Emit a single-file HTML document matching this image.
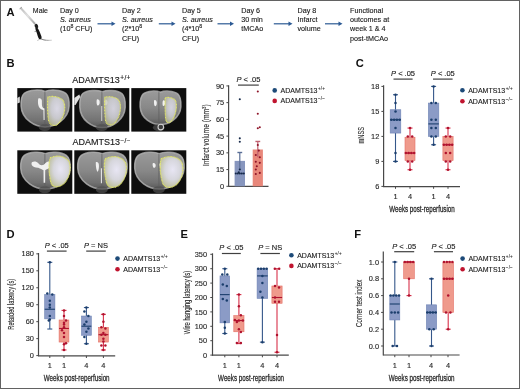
<!DOCTYPE html>
<html><head><meta charset="utf-8"><style>
html,body{margin:0;padding:0;background:#fff;width:520px;height:389px;overflow:hidden;position:relative;}
svg{display:block;font-family:"Liberation Sans", sans-serif;filter:blur(0.3px);}
</style></head><body>
<svg width="520" height="389" viewBox="0 0 520 389" font-family='"Liberation Sans", sans-serif'>
<rect x="0" y="0" width="520" height="389" fill="#fff"/>
<text x="6.40" y="15.90" font-size="11.2" text-anchor="start" font-weight="bold" font-style="normal" fill="#111" >A</text>
<defs><linearGradient id="syr" x1="0" y1="0" x2="1" y2="1"><stop offset="0" stop-color="#bbb"/><stop offset="0.5" stop-color="#e4e4e4"/><stop offset="1" stop-color="#999"/></linearGradient></defs>
<path d="M20.0,8.6 L21.4,7.6 L35.6,23.2 L34.4,24.4 Z" fill="url(#syr)" stroke="#b0b0b0" stroke-width="0.3"/>
<path d="M19.6,8.8 L21.8,7.2" stroke="#999" stroke-width="1.0"/>
<ellipse cx="36.4" cy="26.2" rx="1.7" ry="2.4" transform="rotate(-22 36.4 26.2)" fill="#1e1e1e"/>
<path d="M35.6,27.8 C36.6,27.6 37.8,28 38.4,29.2 C39.4,31 40.6,33.8 41.4,36.2 C41.9,37.8 41.4,39.2 40.2,39.4 C39,39.4 38.4,38 37.8,36.2 C37.2,34 36.6,32 35.9,30.4 C35.5,29.4 35.2,28.4 35.6,27.8 Z" fill="#161616"/>
<defs><linearGradient id="tail" x1="0" y1="0" x2="1" y2="0"><stop offset="0" stop-color="#444"/><stop offset="1" stop-color="#ddd"/></linearGradient></defs>
<path d="M40.8,38.6 C43,40 46,40.6 52,40.2" fill="none" stroke="url(#tail)" stroke-width="1.0"/>
<path d="M36,31.2 l-1.4,0.4 M38.6,39.6 l-0.8,1.0" stroke="#444" stroke-width="0.6"/>
<text x="32.80" y="13.00" font-size="7.0" text-anchor="start" font-weight="normal" font-style="normal" fill="#1a1a1a" stroke="#1a1a1a" stroke-width="0.12" >Male</text>
<text x="60.00" y="13.00" font-size="7.2" text-anchor="start" font-weight="normal" font-style="normal" fill="#1a1a1a" stroke="#1a1a1a" stroke-width="0.12" >Day 0</text>
<text x="60.00" y="22.00" font-size="7.2" text-anchor="start" font-weight="normal" font-style="normal" fill="#1a1a1a" stroke="#1a1a1a" stroke-width="0.12" ><tspan font-style="italic">S. aureus</tspan></text>
<text x="60.00" y="31.20" font-size="7.2" text-anchor="start" font-weight="normal" font-style="normal" fill="#1a1a1a" stroke="#1a1a1a" stroke-width="0.12" >(10<tspan font-size="5.2" dy="-3">8</tspan><tspan dy="3"> CFU)</tspan></text>
<text x="122.00" y="13.00" font-size="7.2" text-anchor="start" font-weight="normal" font-style="normal" fill="#1a1a1a" stroke="#1a1a1a" stroke-width="0.12" >Day 2</text>
<text x="122.00" y="22.00" font-size="7.2" text-anchor="start" font-weight="normal" font-style="normal" fill="#1a1a1a" stroke="#1a1a1a" stroke-width="0.12" ><tspan font-style="italic">S. aureus</tspan></text>
<text x="122.00" y="31.20" font-size="7.2" text-anchor="start" font-weight="normal" font-style="normal" fill="#1a1a1a" stroke="#1a1a1a" stroke-width="0.12" >(2*10<tspan font-size="5.2" dy="-3">8</tspan></text>
<text x="122.00" y="40.60" font-size="7.2" text-anchor="start" font-weight="normal" font-style="normal" fill="#1a1a1a" stroke="#1a1a1a" stroke-width="0.12" >CFU)</text>
<text x="182.00" y="13.00" font-size="7.2" text-anchor="start" font-weight="normal" font-style="normal" fill="#1a1a1a" stroke="#1a1a1a" stroke-width="0.12" >Day 5</text>
<text x="182.00" y="22.00" font-size="7.2" text-anchor="start" font-weight="normal" font-style="normal" fill="#1a1a1a" stroke="#1a1a1a" stroke-width="0.12" ><tspan font-style="italic">S. aureus</tspan></text>
<text x="182.00" y="31.20" font-size="7.2" text-anchor="start" font-weight="normal" font-style="normal" fill="#1a1a1a" stroke="#1a1a1a" stroke-width="0.12" >(4*10<tspan font-size="5.2" dy="-3">8</tspan></text>
<text x="182.00" y="40.60" font-size="7.2" text-anchor="start" font-weight="normal" font-style="normal" fill="#1a1a1a" stroke="#1a1a1a" stroke-width="0.12" >CFU)</text>
<text x="241.30" y="13.00" font-size="7.2" text-anchor="start" font-weight="normal" font-style="normal" fill="#1a1a1a" stroke="#1a1a1a" stroke-width="0.12" >Day 6</text>
<text x="241.30" y="22.00" font-size="7.2" text-anchor="start" font-weight="normal" font-style="normal" fill="#1a1a1a" stroke="#1a1a1a" stroke-width="0.12" >30 min</text>
<text x="241.30" y="31.20" font-size="7.2" text-anchor="start" font-weight="normal" font-style="normal" fill="#1a1a1a" stroke="#1a1a1a" stroke-width="0.12" >tMCAo</text>
<text x="297.50" y="13.00" font-size="7.2" text-anchor="start" font-weight="normal" font-style="normal" fill="#1a1a1a" stroke="#1a1a1a" stroke-width="0.12" >Day 8</text>
<text x="297.50" y="22.00" font-size="7.2" text-anchor="start" font-weight="normal" font-style="normal" fill="#1a1a1a" stroke="#1a1a1a" stroke-width="0.12" >Infarct</text>
<text x="297.50" y="31.20" font-size="7.2" text-anchor="start" font-weight="normal" font-style="normal" fill="#1a1a1a" stroke="#1a1a1a" stroke-width="0.12" >volume</text>
<text x="350.00" y="13.00" font-size="7.2" text-anchor="start" font-weight="normal" font-style="normal" fill="#1a1a1a" stroke="#1a1a1a" stroke-width="0.12" >Functional</text>
<text x="350.00" y="22.00" font-size="7.2" text-anchor="start" font-weight="normal" font-style="normal" fill="#1a1a1a" stroke="#1a1a1a" stroke-width="0.12" >outcomes at</text>
<text x="350.00" y="31.20" font-size="7.2" text-anchor="start" font-weight="normal" font-style="normal" fill="#1a1a1a" stroke="#1a1a1a" stroke-width="0.12" >week 1 &amp; 4</text>
<text x="350.00" y="40.60" font-size="7.2" text-anchor="start" font-weight="normal" font-style="normal" fill="#1a1a1a" stroke="#1a1a1a" stroke-width="0.12" >post-tMCAo</text>
<line x1="97.50" y1="23.80" x2="112.50" y2="23.80" stroke="#2c5a94" stroke-width="1.2"/>
<path d="M111.50,21.60 L115.50,23.80 L111.50,26.00 Z" fill="#2c5a94"/>
<line x1="158.80" y1="23.80" x2="172.50" y2="23.80" stroke="#2c5a94" stroke-width="1.2"/>
<path d="M171.50,21.60 L175.50,23.80 L171.50,26.00 Z" fill="#2c5a94"/>
<line x1="217.50" y1="23.80" x2="231.00" y2="23.80" stroke="#2c5a94" stroke-width="1.2"/>
<path d="M230.00,21.60 L234.00,23.80 L230.00,26.00 Z" fill="#2c5a94"/>
<line x1="273.80" y1="23.80" x2="289.50" y2="23.80" stroke="#2c5a94" stroke-width="1.2"/>
<path d="M288.50,21.60 L292.50,23.80 L288.50,26.00 Z" fill="#2c5a94"/>
<line x1="325.00" y1="23.80" x2="339.50" y2="23.80" stroke="#2c5a94" stroke-width="1.2"/>
<path d="M338.50,21.60 L342.50,23.80 L338.50,26.00 Z" fill="#2c5a94"/>
<text x="6.60" y="66.80" font-size="11.2" text-anchor="start" font-weight="bold" font-style="normal" fill="#111" >B</text>
<text x="72.2" y="82.8" font-size="9" fill="#1a1a1a" stroke="#1a1a1a" stroke-width="0.14">ADAMTS13<tspan font-size="6.4" dx="0.5" dy="-2.6" letter-spacing="0.45">+/+</tspan></text>
<text x="72.4" y="145.2" font-size="9" fill="#1a1a1a" stroke="#1a1a1a" stroke-width="0.14">ADAMTS13<tspan font-size="6.4" dx="0.5" dy="-2.4" letter-spacing="0.45">&#8722;/&#8722;</tspan></text>
<defs><linearGradient id="bg" x1="0" y1="0" x2="0" y2="1"><stop offset="0" stop-color="#9a9a9a"/><stop offset="0.5" stop-color="#888"/><stop offset="0.82" stop-color="#727272"/><stop offset="1" stop-color="#585858"/></linearGradient><radialGradient id="lg" cx="0.55" cy="0.42" r="0.62"><stop offset="0" stop-color="#e8e6f4"/><stop offset="0.55" stop-color="#d6d6dc"/><stop offset="1" stop-color="#bdbf9c"/></radialGradient></defs>
<g transform="translate(17.3,88.1)">
<rect x="0" y="0" width="55" height="43.5" fill="#0e0e0e"/>
<path d="M27.8,3.4 C23,1.2 12,1.4 7,5.2 C3.8,8 3.6,13 3.8,18 C4.1,24 7,29.5 12.5,33.6 C17,37 22.5,38.8 27.8,38.8 C33,38.8 38.5,37 43,33.6 C48.5,29.5 51.6,24 51.8,18 C52,13 51.6,8 48.5,5.2 C43.5,1.4 32.5,1.2 27.8,3.4 Z" fill="url(#bg)" stroke="#b4b4b4" stroke-width="1.5" stroke-opacity="0.8"/>
<ellipse cx="27.5" cy="39.5" rx="6" ry="3.5" fill="#505050" opacity="0.7"/>
<line x1="27.6" y1="3.5" x2="27.6" y2="37" stroke="#5c5c5c" stroke-width="0.7"/>
<path d="M0,10 L2.5,8.5 L2.5,14.5 L0,15.5 Z" fill="#d8d8d8"/>
<path d="M21,10.5 C22.5,9.6 24.5,10.3 24.6,13 C24.7,15.5 24.2,18 25.8,20 L27.2,20.5 L27.3,32 L26.3,32 L26.1,22 C23.8,21.5 21.5,20 21,17 C20.6,15 20.5,12.3 21,10.5 Z" fill="#f0f0f0"/>
<path d="M30.5,9 C35,7.5 42,8.5 45.5,12 C48,15.5 47.8,21 46.5,26 C45,31 42,35.5 38.5,37.3 C35,38 32,36 31.2,32 C30.2,25 30,16 30.5,9 Z" fill="url(#lg)" fill-opacity="0.85" stroke="#e2e66a" stroke-width="1.15" stroke-dasharray="1.0 0.45"/>
</g>
<g transform="translate(74.3,88.1)">
<rect x="0" y="0" width="55" height="43.5" fill="#0e0e0e"/>
<path d="M28,3.6 C23.5,1.6 13,1.7 8.5,5.4 C5.4,8.4 5.3,14 5.5,19 C5.8,25 8.2,30 13,34 C17.2,37.4 23,39.4 28,39.4 C33,39.4 38.8,37.4 43,34 C47.8,30 50.6,25 50.9,19 C51.1,14 51,8.4 47.6,5.4 C43,1.7 32.5,1.6 28,3.6 Z" fill="url(#bg)" stroke="#b4b4b4" stroke-width="1.5" stroke-opacity="0.8"/>
<ellipse cx="27.5" cy="39.5" rx="6" ry="3.5" fill="#505050" opacity="0.7"/>
<line x1="27.6" y1="3.5" x2="27.6" y2="37" stroke="#5c5c5c" stroke-width="0.7"/>
<path d="M0,10 L5,6.5 L6,9 L1.2,17 L0,17 Z" fill="#e0e0e0"/>
<path d="M22.6,11.3 C23.8,10.8 25.4,11.8 25.4,14 C25.4,16.2 24.5,17.7 23.3,17.4 C22.3,17 22,13 22.6,11.3 Z" fill="#f0f0f0"/>
<path d="M30.6,11.6 C31.8,11.2 33.4,12.2 33.2,14.4 C33,16.6 31.8,17.6 31,17 C30.3,16.2 30.1,13 30.6,11.6 Z" fill="#f0f0f0"/>
<path d="M27.1,18 L27.9,18 L27.9,33 L27.1,33 Z" fill="#f0f0f0"/>
<path d="M30.5,9.2 C34.5,8 40.5,8.6 44,11.5 C46.8,15 46.6,21 45.2,26 C43.8,31 41,35.5 37.5,36.8 C34.5,37.4 32,35.8 31.3,32.5 C30.5,26 30,17 30.5,9.2 Z" fill="url(#lg)" fill-opacity="0.78" stroke="#e2e66a" stroke-width="1.15" stroke-dasharray="1.0 0.45"/>
</g>
<g transform="translate(131.3,88.1)">
<rect x="0" y="0" width="55" height="43.5" fill="#0e0e0e"/>
<path d="M29,4.2 C25,2.4 16,2.5 12,5.8 C9,8.6 8.6,14 8.8,18.5 C9.1,24 11.4,28.5 16,32 C19.5,34.6 24.5,36.4 29,36.4 C33.5,36.4 38.5,34.6 42,32 C46.5,28.5 49.3,24 49.6,18.5 C49.8,14 49.6,8.6 46.4,5.8 C42.4,2.5 33,2.4 29,4.2 Z" fill="url(#bg)" stroke="#b4b4b4" stroke-width="1.5" stroke-opacity="0.8"/>
<ellipse cx="27.5" cy="39.5" rx="6" ry="3.5" fill="#505050" opacity="0.7"/>
<line x1="27.6" y1="3.5" x2="27.6" y2="37" stroke="#5c5c5c" stroke-width="0.7"/>
<circle cx="29.5" cy="39" r="2.8" fill="none" stroke="#d0d0d0" stroke-width="1.1"/>
<path d="M23,12 C24.1,11.4 25.5,12.4 25.5,14.8 C25.5,17 24.5,18.6 23.5,18 C22.6,17.2 22.4,13.5 23,12 Z" fill="#f0f0f0"/>
<path d="M31.8,12.4 C32.9,11.9 34.3,12.9 34,15.1 C33.7,17.2 32.3,18.4 31.6,17.6 C31,16.6 31.1,13.4 31.8,12.4 Z" fill="#f0f0f0"/>
<path d="M34,9.6 C37,8.8 41.5,9.6 44,12.2 C45.6,15 45.2,21 43.8,26 C42.4,30.5 40.2,34 37.6,34.6 C35.6,34.8 34.6,33 34.3,30 C33.9,24 33.5,16 34,9.6 Z" fill="url(#lg)" fill-opacity="0.8" stroke="#e2e66a" stroke-width="1.15" stroke-dasharray="1.0 0.45"/>
</g>
<g transform="translate(17.3,150.3)">
<rect x="0" y="0" width="55" height="43.5" fill="#0e0e0e"/>
<path d="M28,3.4 C23.5,1.2 12,1.3 7,5 C3.4,8 3.2,13 3.4,18 C3.7,24 6.8,29.5 12.3,33.6 C16.8,37 22.5,38.8 28,38.8 C33.5,38.8 39.5,37 44,33.6 C49.5,29.5 52.6,24 52.9,18 C53.1,13 52.8,8 49,5 C44,1.3 32.5,1.2 28,3.4 Z" fill="url(#bg)" stroke="#b4b4b4" stroke-width="1.5" stroke-opacity="0.8"/>
<ellipse cx="27.5" cy="39.5" rx="6" ry="3.5" fill="#505050" opacity="0.7"/>
<line x1="27.6" y1="3.5" x2="27.6" y2="37" stroke="#5c5c5c" stroke-width="0.7"/>

<path d="M14.6,12 C16.5,10.8 19.5,11.2 21,13 C22,14.2 23,15 24.5,15 C26,15 27,14.2 28,13 C29.5,11.2 32.5,10.8 34.4,12 C35.5,13 35,15.5 33,17 C31,18.5 29,19 28,20 L27.9,32.5 L26.3,32.5 L26.2,20 C25,19 23,18.5 21,17.4 C18,17.5 15.5,16.5 14.6,15 C14.2,14 14,12.8 14.6,12 Z" fill="#f0f0f0"/>
<path d="M33,7.5 C39.5,4.5 48,5.5 51.8,11.5 C54.5,18.5 52,28 46.5,33.5 C41.5,37.5 36,37.5 34,33.5 C32,27 30.5,14 33,7.5 Z" fill="url(#lg)" fill-opacity="1.0" stroke="#e2e66a" stroke-width="1.15" stroke-dasharray="1.0 0.45"/>
</g>
<g transform="translate(74.3,150.3)">
<rect x="0" y="0" width="55" height="43.5" fill="#0e0e0e"/>
<path d="M28,3.4 C23.5,1.2 12,1.3 7,5 C3.4,8 3.2,13 3.4,18 C3.7,24 6.8,29.5 12.3,33.6 C16.8,37 22.5,38.8 28,38.8 C33.5,38.8 39.5,37 44,33.6 C49.5,29.5 52.6,24 52.9,18 C53.1,13 52.8,8 49,5 C44,1.3 32.5,1.2 28,3.4 Z" fill="url(#bg)" stroke="#b4b4b4" stroke-width="1.5" stroke-opacity="0.8"/>
<ellipse cx="27.5" cy="39.5" rx="6" ry="3.5" fill="#505050" opacity="0.7"/>
<line x1="27.6" y1="3.5" x2="27.6" y2="37" stroke="#5c5c5c" stroke-width="0.7"/>

<path d="M21.5,12 C22.8,11.2 24.4,12 24.6,14.5 C24.8,17 24.4,20 23.4,21.5 C22.4,21 21.4,17 21.5,12 Z" fill="#f0f0f0"/>
<path d="M26.6,18 L27.6,18 L27.6,33 L26.6,33 Z" fill="#f0f0f0"/>
<path d="M31,8.5 C37.5,5 47,5.5 51,12 C53.8,19 51.3,29 45.5,34.5 C40,38.5 34.5,37.8 32.5,33.5 C30.5,26 29,15 31,8.5 Z" fill="url(#lg)" fill-opacity="1.0" stroke="#e2e66a" stroke-width="1.15" stroke-dasharray="1.0 0.45"/>
</g>
<g transform="translate(131.3,150.3)">
<rect x="0" y="0" width="55" height="43.5" fill="#0e0e0e"/>
<path d="M28,3.4 C23.5,1.2 12,1.3 7,5 C3.4,8 3.2,13 3.4,18 C3.7,24 6.8,29.5 12.3,33.6 C16.8,37 22.5,38.8 28,38.8 C33.5,38.8 39.5,37 44,33.6 C49.5,29.5 52.6,24 52.9,18 C53.1,13 52.8,8 49,5 C44,1.3 32.5,1.2 28,3.4 Z" fill="url(#bg)" stroke="#b4b4b4" stroke-width="1.5" stroke-opacity="0.8"/>
<ellipse cx="27.5" cy="39.5" rx="6" ry="3.5" fill="#505050" opacity="0.7"/>
<line x1="27.6" y1="3.5" x2="27.6" y2="37" stroke="#5c5c5c" stroke-width="0.7"/>

<path d="M21.5,13 C22.8,12.2 24.4,13.2 24.4,15.2 C24.4,17 23.2,18 22.2,17.4 C21.4,16.6 21,14 21.5,13 Z" fill="#f0f0f0"/>
<path d="M28.5,13 C29.8,12.2 31.4,13.2 31.2,15.2 C31,17 29.8,18 29,17.4 C28.2,16.6 28,14 28.5,13 Z" fill="#f0f0f0"/>
<path d="M30,8.5 C36.5,5 46.5,5.5 50.5,12 C53.3,19 50.8,29 45,34.5 C39.5,38.5 34,37.8 31.5,33.5 C29.2,26 27.8,15 30,8.5 Z" fill="url(#lg)" fill-opacity="1.0" stroke="#e2e66a" stroke-width="1.15" stroke-dasharray="1.0 0.45"/>
</g>
<line x1="228.60" y1="85.20" x2="228.60" y2="186.80" stroke="#484848" stroke-width="1.2"/>
<line x1="226.40" y1="186.30" x2="228.60" y2="186.30" stroke="#484848" stroke-width="1.0"/>
<text x="224.20" y="188.90" font-size="7.4" text-anchor="end" font-weight="normal" font-style="normal" fill="#262626" stroke="#262626" stroke-width="0.12" >0</text>
<line x1="226.40" y1="169.57" x2="228.60" y2="169.57" stroke="#484848" stroke-width="1.0"/>
<text x="224.20" y="172.17" font-size="7.4" text-anchor="end" font-weight="normal" font-style="normal" fill="#262626" stroke="#262626" stroke-width="0.12" >15</text>
<line x1="226.40" y1="152.84" x2="228.60" y2="152.84" stroke="#484848" stroke-width="1.0"/>
<text x="224.20" y="155.44" font-size="7.4" text-anchor="end" font-weight="normal" font-style="normal" fill="#262626" stroke="#262626" stroke-width="0.12" >30</text>
<line x1="226.40" y1="136.10" x2="228.60" y2="136.10" stroke="#484848" stroke-width="1.0"/>
<text x="224.20" y="138.70" font-size="7.4" text-anchor="end" font-weight="normal" font-style="normal" fill="#262626" stroke="#262626" stroke-width="0.12" >45</text>
<line x1="226.40" y1="119.37" x2="228.60" y2="119.37" stroke="#484848" stroke-width="1.0"/>
<text x="224.20" y="121.97" font-size="7.4" text-anchor="end" font-weight="normal" font-style="normal" fill="#262626" stroke="#262626" stroke-width="0.12" >60</text>
<line x1="226.40" y1="102.64" x2="228.60" y2="102.64" stroke="#484848" stroke-width="1.0"/>
<text x="224.20" y="105.24" font-size="7.4" text-anchor="end" font-weight="normal" font-style="normal" fill="#262626" stroke="#262626" stroke-width="0.12" >75</text>
<line x1="226.40" y1="85.91" x2="228.60" y2="85.91" stroke="#484848" stroke-width="1.0"/>
<text x="224.20" y="88.51" font-size="7.4" text-anchor="end" font-weight="normal" font-style="normal" fill="#262626" stroke="#262626" stroke-width="0.12" >90</text>
<line x1="228.60" y1="186.30" x2="268.50" y2="186.30" stroke="#484848" stroke-width="1.2"/>
<text x="0" y="0" font-size="8.6" text-anchor="middle" fill="#2a2a2a" stroke="#2a2a2a" stroke-width="0.12" textLength="61.7" lengthAdjust="spacingAndGlyphs" transform="translate(208.80,135.20) rotate(-90)">Infarct volume (mm<tspan font-size="5.5" dy="-3">3</tspan><tspan dy="3">)</tspan></text>
<rect x="234.60" y="160.87" width="10.40" height="25.43" fill="#8796be" stroke="none" stroke-width="0"/>
<rect x="252.70" y="149.49" width="10.20" height="36.81" fill="#e8877a" stroke="none" stroke-width="0"/>
<line x1="239.80" y1="169.57" x2="239.80" y2="152.50" stroke="#5a6e96" stroke-width="1.2"/>
<line x1="237.40" y1="152.50" x2="242.20" y2="152.50" stroke="#5a6e96" stroke-width="1.4"/>
<line x1="257.80" y1="157.30" x2="257.80" y2="141.46" stroke="#c06070" stroke-width="1.2"/>
<line x1="255.40" y1="141.46" x2="260.20" y2="141.46" stroke="#c06070" stroke-width="1.4"/>
<circle cx="239.80" cy="99.29" r="1.05" fill="#16294a"/>
<circle cx="239.80" cy="138.33" r="1.05" fill="#16294a"/>
<circle cx="239.80" cy="141.68" r="1.05" fill="#16294a"/>
<circle cx="239.80" cy="169.57" r="1.05" fill="#16294a"/>
<circle cx="235.80" cy="173.47" r="1.05" fill="#16294a"/>
<circle cx="237.80" cy="173.47" r="1.05" fill="#16294a"/>
<circle cx="239.80" cy="173.47" r="1.05" fill="#16294a"/>
<circle cx="241.80" cy="173.47" r="1.05" fill="#16294a"/>
<circle cx="243.80" cy="173.47" r="1.05" fill="#16294a"/>
<circle cx="238.80" cy="172.36" r="1.05" fill="#16294a"/>
<circle cx="257.80" cy="91.48" r="1.05" fill="#8e1428"/>
<circle cx="257.80" cy="113.79" r="1.05" fill="#8e1428"/>
<circle cx="257.80" cy="128.29" r="1.05" fill="#8e1428"/>
<circle cx="259.80" cy="127.18" r="1.05" fill="#8e1428"/>
<circle cx="257.80" cy="145.03" r="1.05" fill="#8e1428"/>
<circle cx="255.80" cy="155.07" r="1.05" fill="#8e1428"/>
<circle cx="259.80" cy="157.30" r="1.05" fill="#8e1428"/>
<circle cx="255.80" cy="161.76" r="1.05" fill="#8e1428"/>
<circle cx="259.80" cy="162.87" r="1.05" fill="#8e1428"/>
<circle cx="256.80" cy="166.22" r="1.05" fill="#8e1428"/>
<circle cx="255.80" cy="169.57" r="1.05" fill="#8e1428"/>
<circle cx="259.80" cy="172.91" r="1.05" fill="#8e1428"/>
<circle cx="255.80" cy="174.03" r="1.05" fill="#8e1428"/>
<circle cx="258.80" cy="150.60" r="1.05" fill="#8e1428"/>
<text x="248.40" y="81.50" font-size="7.5" text-anchor="middle" fill="#1e1e1e" stroke="#1e1e1e" stroke-width="0.14"><tspan font-style="italic">P</tspan> &lt; .05</text>
<line x1="238.00" y1="85.10" x2="258.80" y2="85.10" stroke="#404040" stroke-width="1.2"/>
<circle cx="274.70" cy="90.40" r="2.3" fill="#1d4a78"/>
<circle cx="274.70" cy="100.90" r="2.3" fill="#c0142f"/>
<text x="280.50" y="92.90" font-size="7" fill="#1a1a1a" stroke="#1a1a1a" stroke-width="0.12">ADAMTS13<tspan font-size="4.6" dx="0.5" dy="-3.0" letter-spacing="0.15" stroke-width="0.05">+/+</tspan></text>
<text x="280.50" y="103.40" font-size="7" fill="#1a1a1a" stroke="#1a1a1a" stroke-width="0.12">ADAMTS13<tspan font-size="4.6" dx="0.5" dy="-3.0" letter-spacing="0.15" stroke-width="0.05">&#8722;/&#8722;</tspan></text>
<text x="355.80" y="66.80" font-size="11.2" text-anchor="start" font-weight="bold" font-style="normal" fill="#111" >C</text>
<line x1="383.60" y1="85.20" x2="383.60" y2="186.90" stroke="#484848" stroke-width="1.2"/>
<line x1="381.40" y1="186.40" x2="383.60" y2="186.40" stroke="#484848" stroke-width="1.0"/>
<text x="379.30" y="189.00" font-size="7.4" text-anchor="end" font-weight="normal" font-style="normal" fill="#262626" stroke="#262626" stroke-width="0.12" >6</text>
<line x1="381.40" y1="161.40" x2="383.60" y2="161.40" stroke="#484848" stroke-width="1.0"/>
<text x="379.30" y="164.00" font-size="7.4" text-anchor="end" font-weight="normal" font-style="normal" fill="#262626" stroke="#262626" stroke-width="0.12" >9</text>
<line x1="381.40" y1="136.40" x2="383.60" y2="136.40" stroke="#484848" stroke-width="1.0"/>
<text x="379.30" y="139.00" font-size="7.4" text-anchor="end" font-weight="normal" font-style="normal" fill="#262626" stroke="#262626" stroke-width="0.12" >12</text>
<line x1="381.40" y1="111.40" x2="383.60" y2="111.40" stroke="#484848" stroke-width="1.0"/>
<text x="379.30" y="114.00" font-size="7.4" text-anchor="end" font-weight="normal" font-style="normal" fill="#262626" stroke="#262626" stroke-width="0.12" >15</text>
<line x1="381.40" y1="86.40" x2="383.60" y2="86.40" stroke="#484848" stroke-width="1.0"/>
<text x="379.30" y="89.00" font-size="7.4" text-anchor="end" font-weight="normal" font-style="normal" fill="#262626" stroke="#262626" stroke-width="0.12" >18</text>
<line x1="383.00" y1="186.60" x2="460.00" y2="186.60" stroke="#484848" stroke-width="1.2"/>
<line x1="395.50" y1="186.60" x2="395.50" y2="188.80" stroke="#484848" stroke-width="1.0"/>
<text x="395.50" y="199.00" font-size="7.4" text-anchor="middle" font-weight="normal" font-style="normal" fill="#262626" stroke="#262626" stroke-width="0.12" >1</text>
<line x1="410.00" y1="186.60" x2="410.00" y2="188.80" stroke="#484848" stroke-width="1.0"/>
<text x="410.00" y="199.00" font-size="7.4" text-anchor="middle" font-weight="normal" font-style="normal" fill="#262626" stroke="#262626" stroke-width="0.12" >4</text>
<line x1="433.60" y1="186.60" x2="433.60" y2="188.80" stroke="#484848" stroke-width="1.0"/>
<text x="433.60" y="199.00" font-size="7.4" text-anchor="middle" font-weight="normal" font-style="normal" fill="#262626" stroke="#262626" stroke-width="0.12" >1</text>
<line x1="448.00" y1="186.60" x2="448.00" y2="188.80" stroke="#484848" stroke-width="1.0"/>
<text x="448.00" y="199.00" font-size="7.4" text-anchor="middle" font-weight="normal" font-style="normal" fill="#262626" stroke="#262626" stroke-width="0.12" >4</text>
<text x="0" y="0" font-size="9.2" text-anchor="middle" fill="#2a2a2a" stroke="#2a2a2a" stroke-width="0.12" textLength="16.5" lengthAdjust="spacingAndGlyphs" transform="translate(364.30,135.20) rotate(-90)">mNSS</text>
<text x="422.00" y="212.00" font-size="9.2" text-anchor="middle" fill="#262626" textLength="65.5" lengthAdjust="spacingAndGlyphs" stroke="#262626" stroke-width="0.28">Weeks post-reperfusion</text>
<line x1="395.50" y1="94.74" x2="395.50" y2="161.40" stroke="#35578a" stroke-width="1.1"/>
<line x1="393.00" y1="94.74" x2="398.00" y2="94.74" stroke="#35578a" stroke-width="1.1"/>
<line x1="393.00" y1="161.40" x2="398.00" y2="161.40" stroke="#35578a" stroke-width="1.1"/>
<rect x="390.20" y="109.74" width="10.60" height="23.33" fill="#8b9bc6" stroke="#6d82b4" stroke-width="0.6"/>
<line x1="390.20" y1="119.74" x2="400.80" y2="119.74" stroke="#1b3e6c" stroke-width="1.1"/>
<circle cx="395.50" cy="94.74" r="1.25" fill="#1b3e6c"/>
<circle cx="395.50" cy="103.07" r="1.25" fill="#1b3e6c"/>
<circle cx="395.50" cy="111.40" r="1.25" fill="#1b3e6c"/>
<circle cx="391.30" cy="119.74" r="1.25" fill="#1b3e6c"/>
<circle cx="394.10" cy="119.74" r="1.25" fill="#1b3e6c"/>
<circle cx="396.90" cy="119.74" r="1.25" fill="#1b3e6c"/>
<circle cx="399.70" cy="119.74" r="1.25" fill="#1b3e6c"/>
<circle cx="395.50" cy="128.07" r="1.25" fill="#1b3e6c"/>
<circle cx="395.50" cy="153.07" r="1.25" fill="#1b3e6c"/>
<circle cx="395.50" cy="161.40" r="1.25" fill="#1b3e6c"/>
<line x1="410.00" y1="128.07" x2="410.00" y2="169.73" stroke="#d8314a" stroke-width="1.1"/>
<line x1="407.50" y1="128.07" x2="412.50" y2="128.07" stroke="#d8314a" stroke-width="1.1"/>
<line x1="407.50" y1="169.73" x2="412.50" y2="169.73" stroke="#d8314a" stroke-width="1.1"/>
<rect x="405.00" y="137.24" width="10.00" height="23.33" fill="#ef9a8c" stroke="#e46e64" stroke-width="0.6"/>
<line x1="405.00" y1="153.07" x2="415.00" y2="153.07" stroke="#b0122e" stroke-width="1.1"/>
<circle cx="410.00" cy="128.07" r="1.25" fill="#b0122e"/>
<circle cx="407.80" cy="136.40" r="1.25" fill="#b0122e"/>
<circle cx="412.20" cy="136.40" r="1.25" fill="#b0122e"/>
<circle cx="405.80" cy="153.07" r="1.25" fill="#b0122e"/>
<circle cx="408.60" cy="153.07" r="1.25" fill="#b0122e"/>
<circle cx="411.40" cy="153.07" r="1.25" fill="#b0122e"/>
<circle cx="414.20" cy="153.07" r="1.25" fill="#b0122e"/>
<circle cx="407.80" cy="161.40" r="1.25" fill="#b0122e"/>
<circle cx="412.20" cy="161.40" r="1.25" fill="#b0122e"/>
<circle cx="410.00" cy="169.73" r="1.25" fill="#b0122e"/>
<line x1="433.60" y1="86.40" x2="433.60" y2="144.74" stroke="#35578a" stroke-width="1.1"/>
<line x1="431.10" y1="86.40" x2="436.10" y2="86.40" stroke="#35578a" stroke-width="1.1"/>
<line x1="431.10" y1="144.74" x2="436.10" y2="144.74" stroke="#35578a" stroke-width="1.1"/>
<rect x="428.40" y="103.07" width="10.40" height="33.33" fill="#8b9bc6" stroke="#6d82b4" stroke-width="0.6"/>
<line x1="428.40" y1="123.90" x2="438.80" y2="123.90" stroke="#1b3e6c" stroke-width="1.1"/>
<circle cx="433.60" cy="86.40" r="1.25" fill="#1b3e6c"/>
<circle cx="431.40" cy="103.07" r="1.25" fill="#1b3e6c"/>
<circle cx="435.80" cy="103.07" r="1.25" fill="#1b3e6c"/>
<circle cx="431.40" cy="119.74" r="1.25" fill="#1b3e6c"/>
<circle cx="435.80" cy="119.74" r="1.25" fill="#1b3e6c"/>
<circle cx="431.40" cy="128.07" r="1.25" fill="#1b3e6c"/>
<circle cx="435.80" cy="128.07" r="1.25" fill="#1b3e6c"/>
<circle cx="431.40" cy="136.40" r="1.25" fill="#1b3e6c"/>
<circle cx="435.80" cy="136.40" r="1.25" fill="#1b3e6c"/>
<circle cx="433.60" cy="144.74" r="1.25" fill="#1b3e6c"/>
<line x1="448.00" y1="128.07" x2="448.00" y2="169.73" stroke="#d8314a" stroke-width="1.1"/>
<line x1="445.50" y1="128.07" x2="450.50" y2="128.07" stroke="#d8314a" stroke-width="1.1"/>
<line x1="445.50" y1="169.73" x2="450.50" y2="169.73" stroke="#d8314a" stroke-width="1.1"/>
<rect x="442.90" y="136.40" width="10.20" height="24.17" fill="#ef9a8c" stroke="#e46e64" stroke-width="0.6"/>
<line x1="442.90" y1="144.74" x2="453.10" y2="144.74" stroke="#b0122e" stroke-width="1.1"/>
<circle cx="448.00" cy="128.07" r="1.25" fill="#b0122e"/>
<circle cx="445.80" cy="136.40" r="1.25" fill="#b0122e"/>
<circle cx="450.20" cy="136.40" r="1.25" fill="#b0122e"/>
<circle cx="443.80" cy="144.74" r="1.25" fill="#b0122e"/>
<circle cx="446.60" cy="144.74" r="1.25" fill="#b0122e"/>
<circle cx="449.40" cy="144.74" r="1.25" fill="#b0122e"/>
<circle cx="452.20" cy="144.74" r="1.25" fill="#b0122e"/>
<circle cx="445.80" cy="153.07" r="1.25" fill="#b0122e"/>
<circle cx="450.20" cy="153.07" r="1.25" fill="#b0122e"/>
<circle cx="445.80" cy="161.40" r="1.25" fill="#b0122e"/>
<circle cx="450.20" cy="161.40" r="1.25" fill="#b0122e"/>
<circle cx="448.00" cy="169.73" r="1.25" fill="#b0122e"/>
<text x="403.05" y="76.00" font-size="7.5" text-anchor="middle" fill="#1e1e1e" stroke="#1e1e1e" stroke-width="0.14"><tspan font-style="italic">P</tspan> &lt; .05</text>
<line x1="393.50" y1="79.10" x2="412.60" y2="79.10" stroke="#404040" stroke-width="1.2"/>
<text x="442.80" y="76.00" font-size="7.5" text-anchor="middle" fill="#1e1e1e" stroke="#1e1e1e" stroke-width="0.14"><tspan font-style="italic">P</tspan> &lt; .05</text>
<line x1="433.00" y1="79.10" x2="452.60" y2="79.10" stroke="#404040" stroke-width="1.2"/>
<circle cx="462.40" cy="90.20" r="2.3" fill="#1d4a78"/>
<circle cx="462.40" cy="101.30" r="2.3" fill="#c0142f"/>
<text x="468.20" y="92.70" font-size="7" fill="#1a1a1a" stroke="#1a1a1a" stroke-width="0.12">ADAMTS13<tspan font-size="4.6" dx="0.5" dy="-3.0" letter-spacing="0.15" stroke-width="0.05">+/+</tspan></text>
<text x="468.20" y="103.80" font-size="7" fill="#1a1a1a" stroke="#1a1a1a" stroke-width="0.12">ADAMTS13<tspan font-size="4.6" dx="0.5" dy="-3.0" letter-spacing="0.15" stroke-width="0.05">&#8722;/&#8722;</tspan></text>
<text x="6.40" y="238.40" font-size="11.2" text-anchor="start" font-weight="bold" font-style="normal" fill="#111" >D</text>
<line x1="38.50" y1="253.00" x2="38.50" y2="356.10" stroke="#484848" stroke-width="1.2"/>
<line x1="36.30" y1="355.60" x2="38.50" y2="355.60" stroke="#484848" stroke-width="1.0"/>
<text x="33.90" y="358.20" font-size="7.4" text-anchor="end" font-weight="normal" font-style="normal" fill="#262626" stroke="#262626" stroke-width="0.12" >0</text>
<line x1="36.30" y1="338.64" x2="38.50" y2="338.64" stroke="#484848" stroke-width="1.0"/>
<text x="33.90" y="341.24" font-size="7.4" text-anchor="end" font-weight="normal" font-style="normal" fill="#262626" stroke="#262626" stroke-width="0.12" >30</text>
<line x1="36.30" y1="321.68" x2="38.50" y2="321.68" stroke="#484848" stroke-width="1.0"/>
<text x="33.90" y="324.28" font-size="7.4" text-anchor="end" font-weight="normal" font-style="normal" fill="#262626" stroke="#262626" stroke-width="0.12" >60</text>
<line x1="36.30" y1="304.72" x2="38.50" y2="304.72" stroke="#484848" stroke-width="1.0"/>
<text x="33.90" y="307.32" font-size="7.4" text-anchor="end" font-weight="normal" font-style="normal" fill="#262626" stroke="#262626" stroke-width="0.12" >90</text>
<line x1="36.30" y1="287.76" x2="38.50" y2="287.76" stroke="#484848" stroke-width="1.0"/>
<text x="33.90" y="290.36" font-size="7.4" text-anchor="end" font-weight="normal" font-style="normal" fill="#262626" stroke="#262626" stroke-width="0.12" >120</text>
<line x1="36.30" y1="270.81" x2="38.50" y2="270.81" stroke="#484848" stroke-width="1.0"/>
<text x="33.90" y="273.41" font-size="7.4" text-anchor="end" font-weight="normal" font-style="normal" fill="#262626" stroke="#262626" stroke-width="0.12" >150</text>
<line x1="36.30" y1="253.85" x2="38.50" y2="253.85" stroke="#484848" stroke-width="1.0"/>
<text x="33.90" y="256.45" font-size="7.4" text-anchor="end" font-weight="normal" font-style="normal" fill="#262626" stroke="#262626" stroke-width="0.12" >180</text>
<line x1="38.00" y1="355.80" x2="115.20" y2="355.80" stroke="#484848" stroke-width="1.2"/>
<line x1="49.80" y1="355.80" x2="49.80" y2="358.00" stroke="#484848" stroke-width="1.0"/>
<text x="49.80" y="368.00" font-size="7.4" text-anchor="middle" font-weight="normal" font-style="normal" fill="#262626" stroke="#262626" stroke-width="0.12" >1</text>
<line x1="64.00" y1="355.80" x2="64.00" y2="358.00" stroke="#484848" stroke-width="1.0"/>
<text x="64.00" y="368.00" font-size="7.4" text-anchor="middle" font-weight="normal" font-style="normal" fill="#262626" stroke="#262626" stroke-width="0.12" >1</text>
<line x1="86.40" y1="355.80" x2="86.40" y2="358.00" stroke="#484848" stroke-width="1.0"/>
<text x="86.40" y="368.00" font-size="7.4" text-anchor="middle" font-weight="normal" font-style="normal" fill="#262626" stroke="#262626" stroke-width="0.12" >4</text>
<line x1="103.40" y1="355.80" x2="103.40" y2="358.00" stroke="#484848" stroke-width="1.0"/>
<text x="103.40" y="368.00" font-size="7.4" text-anchor="middle" font-weight="normal" font-style="normal" fill="#262626" stroke="#262626" stroke-width="0.12" >4</text>
<text x="0" y="0" font-size="8.7" text-anchor="middle" fill="#2a2a2a" stroke="#2a2a2a" stroke-width="0.12" textLength="50.8" lengthAdjust="spacingAndGlyphs" transform="translate(14.30,304.30) rotate(-90)">Retarded latency (s)</text>
<text x="76.70" y="381.00" font-size="9.2" text-anchor="middle" fill="#262626" textLength="65.8" lengthAdjust="spacingAndGlyphs" stroke="#262626" stroke-width="0.28">Weeks post-reperfusion</text>
<line x1="49.80" y1="262.33" x2="49.80" y2="329.03" stroke="#35578a" stroke-width="1.1"/>
<line x1="47.30" y1="262.33" x2="52.30" y2="262.33" stroke="#35578a" stroke-width="1.1"/>
<line x1="47.30" y1="329.03" x2="52.30" y2="329.03" stroke="#35578a" stroke-width="1.1"/>
<rect x="44.70" y="294.55" width="10.20" height="24.31" fill="#8b9bc6" stroke="#6d82b4" stroke-width="0.6"/>
<line x1="44.70" y1="309.25" x2="54.90" y2="309.25" stroke="#1b3e6c" stroke-width="1.1"/>
<circle cx="49.80" cy="262.33" r="1.25" fill="#1b3e6c"/>
<circle cx="47.30" cy="293.42" r="1.25" fill="#1b3e6c"/>
<circle cx="52.30" cy="294.55" r="1.25" fill="#1b3e6c"/>
<circle cx="49.80" cy="300.77" r="1.25" fill="#1b3e6c"/>
<circle cx="49.80" cy="304.72" r="1.25" fill="#1b3e6c"/>
<circle cx="49.80" cy="307.55" r="1.25" fill="#1b3e6c"/>
<circle cx="49.80" cy="316.03" r="1.25" fill="#1b3e6c"/>
<circle cx="49.80" cy="319.42" r="1.25" fill="#1b3e6c"/>
<circle cx="48.80" cy="320.55" r="1.25" fill="#1b3e6c"/>
<line x1="64.00" y1="310.38" x2="64.00" y2="349.95" stroke="#d8314a" stroke-width="1.1"/>
<line x1="61.50" y1="310.38" x2="66.50" y2="310.38" stroke="#d8314a" stroke-width="1.1"/>
<line x1="61.50" y1="349.95" x2="66.50" y2="349.95" stroke="#d8314a" stroke-width="1.1"/>
<rect x="59.10" y="319.99" width="9.80" height="22.05" fill="#ef9a8c" stroke="#e46e64" stroke-width="0.6"/>
<line x1="59.10" y1="328.47" x2="68.90" y2="328.47" stroke="#b0122e" stroke-width="1.1"/>
<circle cx="64.00" cy="310.38" r="1.25" fill="#b0122e"/>
<circle cx="64.00" cy="316.03" r="1.25" fill="#b0122e"/>
<circle cx="66.00" cy="320.55" r="1.25" fill="#b0122e"/>
<circle cx="64.00" cy="322.81" r="1.25" fill="#b0122e"/>
<circle cx="64.00" cy="324.51" r="1.25" fill="#b0122e"/>
<circle cx="64.00" cy="327.34" r="1.25" fill="#b0122e"/>
<circle cx="62.00" cy="330.16" r="1.25" fill="#b0122e"/>
<circle cx="64.00" cy="332.99" r="1.25" fill="#b0122e"/>
<circle cx="64.00" cy="336.95" r="1.25" fill="#b0122e"/>
<circle cx="66.00" cy="343.16" r="1.25" fill="#b0122e"/>
<circle cx="64.00" cy="344.29" r="1.25" fill="#b0122e"/>
<circle cx="64.00" cy="349.95" r="1.25" fill="#b0122e"/>
<line x1="86.40" y1="307.55" x2="86.40" y2="343.73" stroke="#35578a" stroke-width="1.1"/>
<line x1="83.90" y1="307.55" x2="88.90" y2="307.55" stroke="#35578a" stroke-width="1.1"/>
<line x1="83.90" y1="343.73" x2="88.90" y2="343.73" stroke="#35578a" stroke-width="1.1"/>
<rect x="81.50" y="316.03" width="9.80" height="19.22" fill="#8b9bc6" stroke="#6d82b4" stroke-width="0.6"/>
<line x1="81.50" y1="326.20" x2="91.30" y2="326.20" stroke="#1b3e6c" stroke-width="1.1"/>
<circle cx="86.40" cy="307.55" r="1.25" fill="#1b3e6c"/>
<circle cx="84.40" cy="311.51" r="1.25" fill="#1b3e6c"/>
<circle cx="88.40" cy="316.03" r="1.25" fill="#1b3e6c"/>
<circle cx="86.40" cy="321.68" r="1.25" fill="#1b3e6c"/>
<circle cx="84.40" cy="324.51" r="1.25" fill="#1b3e6c"/>
<circle cx="88.40" cy="328.47" r="1.25" fill="#1b3e6c"/>
<circle cx="86.40" cy="331.86" r="1.25" fill="#1b3e6c"/>
<circle cx="84.40" cy="336.95" r="1.25" fill="#1b3e6c"/>
<circle cx="86.40" cy="343.73" r="1.25" fill="#1b3e6c"/>
<line x1="103.40" y1="314.33" x2="103.40" y2="349.95" stroke="#d8314a" stroke-width="1.1"/>
<line x1="100.90" y1="314.33" x2="105.90" y2="314.33" stroke="#d8314a" stroke-width="1.1"/>
<line x1="100.90" y1="349.95" x2="105.90" y2="349.95" stroke="#d8314a" stroke-width="1.1"/>
<rect x="98.50" y="327.34" width="9.80" height="14.70" fill="#ef9a8c" stroke="#e46e64" stroke-width="0.6"/>
<line x1="98.50" y1="334.68" x2="108.30" y2="334.68" stroke="#b0122e" stroke-width="1.1"/>
<circle cx="103.40" cy="314.33" r="1.25" fill="#b0122e"/>
<circle cx="103.40" cy="321.68" r="1.25" fill="#b0122e"/>
<circle cx="101.40" cy="327.34" r="1.25" fill="#b0122e"/>
<circle cx="105.40" cy="328.47" r="1.25" fill="#b0122e"/>
<circle cx="103.40" cy="332.99" r="1.25" fill="#b0122e"/>
<circle cx="101.40" cy="334.68" r="1.25" fill="#b0122e"/>
<circle cx="105.40" cy="334.68" r="1.25" fill="#b0122e"/>
<circle cx="103.40" cy="338.64" r="1.25" fill="#b0122e"/>
<circle cx="103.40" cy="341.47" r="1.25" fill="#b0122e"/>
<circle cx="101.40" cy="345.42" r="1.25" fill="#b0122e"/>
<circle cx="105.40" cy="345.42" r="1.25" fill="#b0122e"/>
<circle cx="103.40" cy="349.95" r="1.25" fill="#b0122e"/>
<text x="56.75" y="247.80" font-size="7.5" text-anchor="middle" fill="#1e1e1e" stroke="#1e1e1e" stroke-width="0.14"><tspan font-style="italic">P</tspan> &lt; .05</text>
<line x1="46.90" y1="251.10" x2="66.60" y2="251.10" stroke="#404040" stroke-width="1.2"/>
<text x="96.00" y="247.80" font-size="7.5" text-anchor="middle" fill="#1e1e1e" stroke="#1e1e1e" stroke-width="0.14"><tspan font-style="italic">P</tspan> = NS</text>
<line x1="86.20" y1="251.10" x2="105.80" y2="251.10" stroke="#404040" stroke-width="1.2"/>
<circle cx="117.50" cy="258.60" r="2.3" fill="#1d4a78"/>
<circle cx="117.50" cy="269.30" r="2.3" fill="#c0142f"/>
<text x="123.30" y="261.10" font-size="7" fill="#1a1a1a" stroke="#1a1a1a" stroke-width="0.12">ADAMTS13<tspan font-size="4.6" dx="0.5" dy="-3.0" letter-spacing="0.15" stroke-width="0.05">+/+</tspan></text>
<text x="123.30" y="271.80" font-size="7" fill="#1a1a1a" stroke="#1a1a1a" stroke-width="0.12">ADAMTS13<tspan font-size="4.6" dx="0.5" dy="-3.0" letter-spacing="0.15" stroke-width="0.05">&#8722;/&#8722;</tspan></text>
<text x="180.40" y="238.40" font-size="11.2" text-anchor="start" font-weight="bold" font-style="normal" fill="#111" >E</text>
<line x1="212.50" y1="253.30" x2="212.50" y2="355.60" stroke="#484848" stroke-width="1.2"/>
<line x1="210.30" y1="355.10" x2="212.50" y2="355.10" stroke="#484848" stroke-width="1.0"/>
<text x="207.00" y="357.70" font-size="7.4" text-anchor="end" font-weight="normal" font-style="normal" fill="#262626" stroke="#262626" stroke-width="0.12" >0</text>
<line x1="210.30" y1="340.70" x2="212.50" y2="340.70" stroke="#484848" stroke-width="1.0"/>
<text x="207.00" y="343.30" font-size="7.4" text-anchor="end" font-weight="normal" font-style="normal" fill="#262626" stroke="#262626" stroke-width="0.12" >50</text>
<line x1="210.30" y1="326.30" x2="212.50" y2="326.30" stroke="#484848" stroke-width="1.0"/>
<text x="207.00" y="328.90" font-size="7.4" text-anchor="end" font-weight="normal" font-style="normal" fill="#262626" stroke="#262626" stroke-width="0.12" >100</text>
<line x1="210.30" y1="311.90" x2="212.50" y2="311.90" stroke="#484848" stroke-width="1.0"/>
<text x="207.00" y="314.50" font-size="7.4" text-anchor="end" font-weight="normal" font-style="normal" fill="#262626" stroke="#262626" stroke-width="0.12" >150</text>
<line x1="210.30" y1="297.50" x2="212.50" y2="297.50" stroke="#484848" stroke-width="1.0"/>
<text x="207.00" y="300.10" font-size="7.4" text-anchor="end" font-weight="normal" font-style="normal" fill="#262626" stroke="#262626" stroke-width="0.12" >200</text>
<line x1="210.30" y1="283.10" x2="212.50" y2="283.10" stroke="#484848" stroke-width="1.0"/>
<text x="207.00" y="285.70" font-size="7.4" text-anchor="end" font-weight="normal" font-style="normal" fill="#262626" stroke="#262626" stroke-width="0.12" >250</text>
<line x1="210.30" y1="268.70" x2="212.50" y2="268.70" stroke="#484848" stroke-width="1.0"/>
<text x="207.00" y="271.30" font-size="7.4" text-anchor="end" font-weight="normal" font-style="normal" fill="#262626" stroke="#262626" stroke-width="0.12" >300</text>
<line x1="210.30" y1="254.30" x2="212.50" y2="254.30" stroke="#484848" stroke-width="1.0"/>
<text x="207.00" y="256.90" font-size="7.4" text-anchor="end" font-weight="normal" font-style="normal" fill="#262626" stroke="#262626" stroke-width="0.12" >350</text>
<line x1="212.00" y1="355.10" x2="288.80" y2="355.10" stroke="#484848" stroke-width="1.2"/>
<line x1="224.80" y1="355.10" x2="224.80" y2="357.30" stroke="#484848" stroke-width="1.0"/>
<text x="224.80" y="368.00" font-size="7.4" text-anchor="middle" font-weight="normal" font-style="normal" fill="#262626" stroke="#262626" stroke-width="0.12" >1</text>
<line x1="238.90" y1="355.10" x2="238.90" y2="357.30" stroke="#484848" stroke-width="1.0"/>
<text x="238.90" y="368.00" font-size="7.4" text-anchor="middle" font-weight="normal" font-style="normal" fill="#262626" stroke="#262626" stroke-width="0.12" >1</text>
<line x1="262.40" y1="355.10" x2="262.40" y2="357.30" stroke="#484848" stroke-width="1.0"/>
<text x="262.40" y="368.00" font-size="7.4" text-anchor="middle" font-weight="normal" font-style="normal" fill="#262626" stroke="#262626" stroke-width="0.12" >4</text>
<line x1="277.00" y1="355.10" x2="277.00" y2="357.30" stroke="#484848" stroke-width="1.0"/>
<text x="277.00" y="368.00" font-size="7.4" text-anchor="middle" font-weight="normal" font-style="normal" fill="#262626" stroke="#262626" stroke-width="0.12" >4</text>
<text x="0" y="0" font-size="8.7" text-anchor="middle" fill="#2a2a2a" stroke="#2a2a2a" stroke-width="0.12" textLength="63.5" lengthAdjust="spacingAndGlyphs" transform="translate(189.50,302.60) rotate(-90)">Wire hanging latency (s)</text>
<text x="251.10" y="381.00" font-size="9.2" text-anchor="middle" fill="#262626" textLength="66.0" lengthAdjust="spacingAndGlyphs" stroke="#262626" stroke-width="0.28">Weeks post-reperfusion</text>
<line x1="224.80" y1="268.70" x2="224.80" y2="333.50" stroke="#35578a" stroke-width="1.1"/>
<line x1="222.30" y1="268.70" x2="227.30" y2="268.70" stroke="#35578a" stroke-width="1.1"/>
<line x1="222.30" y1="333.50" x2="227.30" y2="333.50" stroke="#35578a" stroke-width="1.1"/>
<rect x="220.00" y="275.90" width="9.60" height="46.94" fill="#8b9bc6" stroke="#6d82b4" stroke-width="0.6"/>
<line x1="220.00" y1="294.62" x2="229.60" y2="294.62" stroke="#1b3e6c" stroke-width="1.1"/>
<circle cx="224.80" cy="268.70" r="1.25" fill="#1b3e6c"/>
<circle cx="222.30" cy="274.46" r="1.25" fill="#1b3e6c"/>
<circle cx="227.30" cy="274.46" r="1.25" fill="#1b3e6c"/>
<circle cx="222.80" cy="284.54" r="1.25" fill="#1b3e6c"/>
<circle cx="226.80" cy="285.98" r="1.25" fill="#1b3e6c"/>
<circle cx="222.80" cy="298.94" r="1.25" fill="#1b3e6c"/>
<circle cx="226.80" cy="300.38" r="1.25" fill="#1b3e6c"/>
<circle cx="224.80" cy="321.98" r="1.25" fill="#1b3e6c"/>
<circle cx="224.80" cy="327.74" r="1.25" fill="#1b3e6c"/>
<circle cx="224.80" cy="333.50" r="1.25" fill="#1b3e6c"/>
<line x1="238.90" y1="294.62" x2="238.90" y2="343.58" stroke="#d8314a" stroke-width="1.1"/>
<line x1="236.40" y1="294.62" x2="241.40" y2="294.62" stroke="#d8314a" stroke-width="1.1"/>
<line x1="236.40" y1="343.58" x2="241.40" y2="343.58" stroke="#d8314a" stroke-width="1.1"/>
<rect x="233.80" y="315.64" width="10.20" height="16.13" fill="#ef9a8c" stroke="#e46e64" stroke-width="0.6"/>
<line x1="233.80" y1="320.54" x2="244.00" y2="320.54" stroke="#b0122e" stroke-width="1.1"/>
<circle cx="238.90" cy="294.62" r="1.25" fill="#b0122e"/>
<circle cx="238.90" cy="306.14" r="1.25" fill="#b0122e"/>
<circle cx="240.90" cy="315.36" r="1.25" fill="#b0122e"/>
<circle cx="234.90" cy="319.96" r="1.25" fill="#b0122e"/>
<circle cx="238.90" cy="320.54" r="1.25" fill="#b0122e"/>
<circle cx="242.90" cy="320.54" r="1.25" fill="#b0122e"/>
<circle cx="236.90" cy="321.98" r="1.25" fill="#b0122e"/>
<circle cx="238.90" cy="329.18" r="1.25" fill="#b0122e"/>
<circle cx="240.90" cy="332.06" r="1.25" fill="#b0122e"/>
<circle cx="236.90" cy="343.00" r="1.25" fill="#b0122e"/>
<circle cx="240.90" cy="343.00" r="1.25" fill="#b0122e"/>
<line x1="262.40" y1="268.70" x2="262.40" y2="342.14" stroke="#35578a" stroke-width="1.1"/>
<line x1="259.90" y1="268.70" x2="264.90" y2="268.70" stroke="#35578a" stroke-width="1.1"/>
<line x1="259.90" y1="342.14" x2="264.90" y2="342.14" stroke="#35578a" stroke-width="1.1"/>
<rect x="257.10" y="268.70" width="10.60" height="29.66" fill="#8b9bc6" stroke="#6d82b4" stroke-width="0.6"/>
<line x1="257.10" y1="275.90" x2="267.70" y2="275.90" stroke="#1b3e6c" stroke-width="1.1"/>
<circle cx="258.20" cy="268.70" r="1.25" fill="#1b3e6c"/>
<circle cx="261.00" cy="268.70" r="1.25" fill="#1b3e6c"/>
<circle cx="263.80" cy="268.70" r="1.25" fill="#1b3e6c"/>
<circle cx="266.60" cy="268.70" r="1.25" fill="#1b3e6c"/>
<circle cx="262.40" cy="275.90" r="1.25" fill="#1b3e6c"/>
<circle cx="262.40" cy="283.10" r="1.25" fill="#1b3e6c"/>
<circle cx="260.40" cy="291.74" r="1.25" fill="#1b3e6c"/>
<circle cx="262.40" cy="297.50" r="1.25" fill="#1b3e6c"/>
<circle cx="262.40" cy="342.14" r="1.25" fill="#1b3e6c"/>
<line x1="277.00" y1="268.70" x2="277.00" y2="352.22" stroke="#d8314a" stroke-width="1.1"/>
<line x1="274.50" y1="268.70" x2="279.50" y2="268.70" stroke="#d8314a" stroke-width="1.1"/>
<line x1="274.50" y1="352.22" x2="279.50" y2="352.22" stroke="#d8314a" stroke-width="1.1"/>
<rect x="271.90" y="285.98" width="10.20" height="17.28" fill="#ef9a8c" stroke="#e46e64" stroke-width="0.6"/>
<line x1="271.90" y1="297.50" x2="282.10" y2="297.50" stroke="#b0122e" stroke-width="1.1"/>
<circle cx="274.80" cy="268.70" r="1.25" fill="#b0122e"/>
<circle cx="279.20" cy="268.70" r="1.25" fill="#b0122e"/>
<circle cx="275.00" cy="285.98" r="1.25" fill="#b0122e"/>
<circle cx="279.00" cy="287.42" r="1.25" fill="#b0122e"/>
<circle cx="275.00" cy="297.50" r="1.25" fill="#b0122e"/>
<circle cx="279.00" cy="301.82" r="1.25" fill="#b0122e"/>
<circle cx="275.00" cy="301.82" r="1.25" fill="#b0122e"/>
<circle cx="277.00" cy="334.94" r="1.25" fill="#b0122e"/>
<circle cx="277.00" cy="352.22" r="1.25" fill="#b0122e"/>
<text x="231.35" y="250.30" font-size="7.5" text-anchor="middle" fill="#1e1e1e" stroke="#1e1e1e" stroke-width="0.14"><tspan font-style="italic">P</tspan> &lt; .05</text>
<line x1="221.90" y1="253.50" x2="240.80" y2="253.50" stroke="#404040" stroke-width="1.2"/>
<text x="270.15" y="250.30" font-size="7.5" text-anchor="middle" fill="#1e1e1e" stroke="#1e1e1e" stroke-width="0.14"><tspan font-style="italic">P</tspan> = NS</text>
<line x1="260.40" y1="253.50" x2="279.90" y2="253.50" stroke="#404040" stroke-width="1.2"/>
<circle cx="291.40" cy="255.20" r="2.3" fill="#1d4a78"/>
<circle cx="291.40" cy="265.90" r="2.3" fill="#c0142f"/>
<text x="297.20" y="257.70" font-size="7" fill="#1a1a1a" stroke="#1a1a1a" stroke-width="0.12">ADAMTS13<tspan font-size="4.6" dx="0.5" dy="-3.0" letter-spacing="0.15" stroke-width="0.05">+/+</tspan></text>
<text x="297.20" y="268.40" font-size="7" fill="#1a1a1a" stroke="#1a1a1a" stroke-width="0.12">ADAMTS13<tspan font-size="4.6" dx="0.5" dy="-3.0" letter-spacing="0.15" stroke-width="0.05">&#8722;/&#8722;</tspan></text>
<text x="354.20" y="238.40" font-size="11.2" text-anchor="start" font-weight="bold" font-style="normal" fill="#111" >F</text>
<line x1="383.30" y1="251.50" x2="383.30" y2="355.50" stroke="#484848" stroke-width="1.2"/>
<line x1="381.10" y1="346.00" x2="383.30" y2="346.00" stroke="#484848" stroke-width="1.0"/>
<text x="379.00" y="348.60" font-size="7.4" text-anchor="end" font-weight="normal" font-style="normal" fill="#262626" stroke="#262626" stroke-width="0.12" >0.0</text>
<line x1="381.10" y1="329.20" x2="383.30" y2="329.20" stroke="#484848" stroke-width="1.0"/>
<text x="379.00" y="331.80" font-size="7.4" text-anchor="end" font-weight="normal" font-style="normal" fill="#262626" stroke="#262626" stroke-width="0.12" >0.2</text>
<line x1="381.10" y1="312.40" x2="383.30" y2="312.40" stroke="#484848" stroke-width="1.0"/>
<text x="379.00" y="315.00" font-size="7.4" text-anchor="end" font-weight="normal" font-style="normal" fill="#262626" stroke="#262626" stroke-width="0.12" >0.4</text>
<line x1="381.10" y1="295.60" x2="383.30" y2="295.60" stroke="#484848" stroke-width="1.0"/>
<text x="379.00" y="298.20" font-size="7.4" text-anchor="end" font-weight="normal" font-style="normal" fill="#262626" stroke="#262626" stroke-width="0.12" >0.6</text>
<line x1="381.10" y1="278.80" x2="383.30" y2="278.80" stroke="#484848" stroke-width="1.0"/>
<text x="379.00" y="281.40" font-size="7.4" text-anchor="end" font-weight="normal" font-style="normal" fill="#262626" stroke="#262626" stroke-width="0.12" >0.8</text>
<line x1="381.10" y1="262.00" x2="383.30" y2="262.00" stroke="#484848" stroke-width="1.0"/>
<text x="379.00" y="264.60" font-size="7.4" text-anchor="end" font-weight="normal" font-style="normal" fill="#262626" stroke="#262626" stroke-width="0.12" >1.0</text>
<line x1="383.30" y1="355.00" x2="459.60" y2="355.00" stroke="#484848" stroke-width="1.2"/>
<line x1="394.80" y1="355.00" x2="394.80" y2="357.20" stroke="#484848" stroke-width="1.0"/>
<text x="394.80" y="368.00" font-size="7.4" text-anchor="middle" font-weight="normal" font-style="normal" fill="#262626" stroke="#262626" stroke-width="0.12" >1</text>
<line x1="409.00" y1="355.00" x2="409.00" y2="357.20" stroke="#484848" stroke-width="1.0"/>
<text x="409.00" y="368.00" font-size="7.4" text-anchor="middle" font-weight="normal" font-style="normal" fill="#262626" stroke="#262626" stroke-width="0.12" >1</text>
<line x1="431.00" y1="355.00" x2="431.00" y2="357.20" stroke="#484848" stroke-width="1.0"/>
<text x="431.00" y="368.00" font-size="7.4" text-anchor="middle" font-weight="normal" font-style="normal" fill="#262626" stroke="#262626" stroke-width="0.12" >4</text>
<line x1="448.00" y1="355.00" x2="448.00" y2="357.20" stroke="#484848" stroke-width="1.0"/>
<text x="448.00" y="368.00" font-size="7.4" text-anchor="middle" font-weight="normal" font-style="normal" fill="#262626" stroke="#262626" stroke-width="0.12" >4</text>
<text x="0" y="0" font-size="8.9" text-anchor="middle" fill="#2a2a2a" stroke="#2a2a2a" stroke-width="0.12" textLength="47.4" lengthAdjust="spacingAndGlyphs" transform="translate(362.30,303.30) rotate(-90)">Corner test index</text>
<text x="421.70" y="381.00" font-size="9.2" text-anchor="middle" fill="#262626" textLength="65.8" lengthAdjust="spacingAndGlyphs" stroke="#262626" stroke-width="0.28">Weeks post-reperfusion</text>
<line x1="394.80" y1="262.00" x2="394.80" y2="346.00" stroke="#35578a" stroke-width="1.1"/>
<line x1="392.30" y1="262.00" x2="397.30" y2="262.00" stroke="#35578a" stroke-width="1.1"/>
<line x1="392.30" y1="346.00" x2="397.30" y2="346.00" stroke="#35578a" stroke-width="1.1"/>
<rect x="389.80" y="295.60" width="10.00" height="24.36" fill="#8b9bc6" stroke="#6d82b4" stroke-width="0.6"/>
<line x1="389.80" y1="304.00" x2="399.80" y2="304.00" stroke="#1b3e6c" stroke-width="1.1"/>
<circle cx="394.80" cy="262.00" r="1.25" fill="#1b3e6c"/>
<circle cx="390.60" cy="295.60" r="1.25" fill="#1b3e6c"/>
<circle cx="393.40" cy="295.60" r="1.25" fill="#1b3e6c"/>
<circle cx="396.20" cy="295.60" r="1.25" fill="#1b3e6c"/>
<circle cx="399.00" cy="295.60" r="1.25" fill="#1b3e6c"/>
<circle cx="391.50" cy="312.40" r="1.25" fill="#1b3e6c"/>
<circle cx="394.80" cy="312.40" r="1.25" fill="#1b3e6c"/>
<circle cx="398.10" cy="312.40" r="1.25" fill="#1b3e6c"/>
<circle cx="392.60" cy="346.00" r="1.25" fill="#1b3e6c"/>
<circle cx="397.00" cy="346.00" r="1.25" fill="#1b3e6c"/>
<line x1="409.00" y1="262.00" x2="409.00" y2="295.60" stroke="#d8314a" stroke-width="1.1"/>
<line x1="406.50" y1="262.00" x2="411.50" y2="262.00" stroke="#d8314a" stroke-width="1.1"/>
<line x1="406.50" y1="295.60" x2="411.50" y2="295.60" stroke="#d8314a" stroke-width="1.1"/>
<rect x="403.70" y="262.00" width="10.60" height="16.80" fill="#ef9a8c" stroke="#e46e64" stroke-width="0.6"/>
<line x1="403.70" y1="262.00" x2="414.30" y2="262.00" stroke="#b0122e" stroke-width="1.1"/>
<circle cx="404.80" cy="262.00" r="1.25" fill="#b0122e"/>
<circle cx="407.60" cy="262.00" r="1.25" fill="#b0122e"/>
<circle cx="410.40" cy="262.00" r="1.25" fill="#b0122e"/>
<circle cx="413.20" cy="262.00" r="1.25" fill="#b0122e"/>
<circle cx="409.00" cy="278.80" r="1.25" fill="#b0122e"/>
<circle cx="409.00" cy="295.60" r="1.25" fill="#b0122e"/>
<line x1="431.50" y1="278.80" x2="431.50" y2="346.00" stroke="#35578a" stroke-width="1.1"/>
<line x1="429.00" y1="278.80" x2="434.00" y2="278.80" stroke="#35578a" stroke-width="1.1"/>
<line x1="429.00" y1="346.00" x2="434.00" y2="346.00" stroke="#35578a" stroke-width="1.1"/>
<rect x="426.40" y="304.84" width="10.20" height="24.36" fill="#8b9bc6" stroke="#6d82b4" stroke-width="0.6"/>
<line x1="426.40" y1="312.40" x2="436.60" y2="312.40" stroke="#1b3e6c" stroke-width="1.1"/>
<circle cx="431.50" cy="278.80" r="1.25" fill="#1b3e6c"/>
<circle cx="427.30" cy="312.40" r="1.25" fill="#1b3e6c"/>
<circle cx="430.10" cy="312.40" r="1.25" fill="#1b3e6c"/>
<circle cx="432.90" cy="312.40" r="1.25" fill="#1b3e6c"/>
<circle cx="435.70" cy="312.40" r="1.25" fill="#1b3e6c"/>
<circle cx="429.30" cy="329.20" r="1.25" fill="#1b3e6c"/>
<circle cx="433.70" cy="329.20" r="1.25" fill="#1b3e6c"/>
<circle cx="431.50" cy="346.00" r="1.25" fill="#1b3e6c"/>
<line x1="448.20" y1="262.00" x2="448.20" y2="329.20" stroke="#d8314a" stroke-width="1.1"/>
<line x1="445.70" y1="262.00" x2="450.70" y2="262.00" stroke="#d8314a" stroke-width="1.1"/>
<line x1="445.70" y1="329.20" x2="450.70" y2="329.20" stroke="#d8314a" stroke-width="1.1"/>
<rect x="442.90" y="262.00" width="10.60" height="50.40" fill="#ef9a8c" stroke="#e46e64" stroke-width="0.6"/>
<line x1="442.90" y1="278.80" x2="453.50" y2="278.80" stroke="#b0122e" stroke-width="1.1"/>
<circle cx="444.00" cy="262.00" r="1.25" fill="#b0122e"/>
<circle cx="446.80" cy="262.00" r="1.25" fill="#b0122e"/>
<circle cx="449.60" cy="262.00" r="1.25" fill="#b0122e"/>
<circle cx="452.40" cy="262.00" r="1.25" fill="#b0122e"/>
<circle cx="444.00" cy="278.80" r="1.25" fill="#b0122e"/>
<circle cx="446.80" cy="278.80" r="1.25" fill="#b0122e"/>
<circle cx="449.60" cy="278.80" r="1.25" fill="#b0122e"/>
<circle cx="452.40" cy="278.80" r="1.25" fill="#b0122e"/>
<circle cx="448.20" cy="295.60" r="1.25" fill="#b0122e"/>
<circle cx="446.00" cy="312.40" r="1.25" fill="#b0122e"/>
<circle cx="450.40" cy="312.40" r="1.25" fill="#b0122e"/>
<circle cx="448.20" cy="329.20" r="1.25" fill="#b0122e"/>
<text x="404.20" y="249.10" font-size="7.5" text-anchor="middle" fill="#1e1e1e" stroke="#1e1e1e" stroke-width="0.14"><tspan font-style="italic">P</tspan> &lt; .05</text>
<line x1="394.20" y1="251.70" x2="414.20" y2="251.70" stroke="#404040" stroke-width="1.2"/>
<text x="443.45" y="249.10" font-size="7.5" text-anchor="middle" fill="#1e1e1e" stroke="#1e1e1e" stroke-width="0.14"><tspan font-style="italic">P</tspan> &lt; .05</text>
<line x1="433.90" y1="251.70" x2="453.00" y2="251.70" stroke="#404040" stroke-width="1.2"/>
<circle cx="462.60" cy="258.60" r="2.3" fill="#1d4a78"/>
<circle cx="462.60" cy="269.30" r="2.3" fill="#c0142f"/>
<text x="468.40" y="261.10" font-size="7" fill="#1a1a1a" stroke="#1a1a1a" stroke-width="0.12">ADAMTS13<tspan font-size="4.6" dx="0.5" dy="-3.0" letter-spacing="0.15" stroke-width="0.05">+/+</tspan></text>
<text x="468.40" y="271.80" font-size="7" fill="#1a1a1a" stroke="#1a1a1a" stroke-width="0.12">ADAMTS13<tspan font-size="4.6" dx="0.5" dy="-3.0" letter-spacing="0.15" stroke-width="0.05">&#8722;/&#8722;</tspan></text>
</svg>
<div style="position:absolute;left:0;top:0;width:518px;height:387px;border:1px solid #626262;"></div>
</body></html>
